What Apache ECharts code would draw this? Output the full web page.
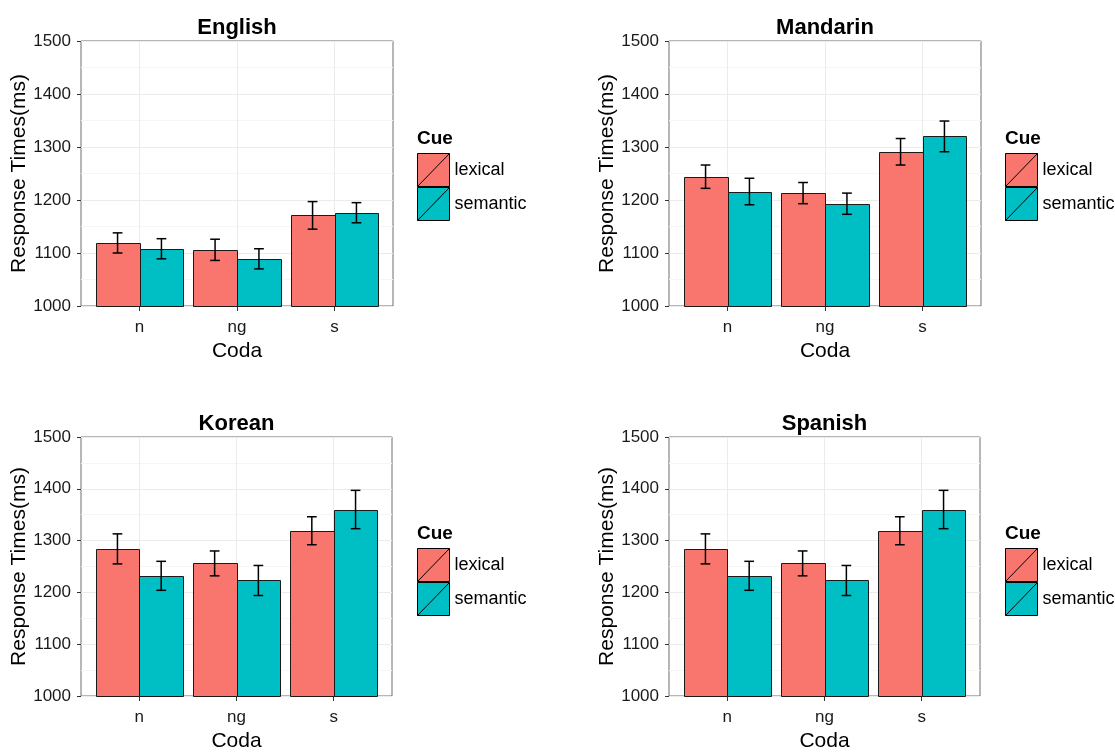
<!DOCTYPE html>
<html>
<head>
<meta charset="utf-8">
<script src="https://cdn.jsdelivr.net/npm/echarts@6/dist/echarts.min.js"></script>
<style>
  html, body { margin: 0; padding: 0; background: #fff; }
  #chart { width: 1115px; height: 753px; }
</style>
</head>
<body>
<div id="chart"></div>
<script>
// Categories
const codas = ['n', 'ng', 's'];
const cues = ['lexical', 'semantic'];
const languages = ['English', 'Mandarin', 'Korean', 'Spanish'];
const yTicks = [1000, 1100, 1200, 1300, 1400, 1500];

// Mean response times (ms) per coda
const englishLexical = [1119, 1106, 1171];
const englishSemantic = [1108, 1089, 1176];
const mandarinLexical = [1244, 1213, 1291];
const mandarinSemantic = [1216, 1193, 1320];
const koreanLexical = [1284, 1256, 1319];
const koreanSemantic = [1232, 1223, 1360];
const spanishLexical = [1284, 1256, 1319];
const spanishSemantic = [1232, 1223, 1360];

// Error bar half-widths (ms)
const englishLexicalErr = [19, 20, 26];
const englishSemanticErr = [19, 19, 19];
const mandarinLexicalErr = [22, 20, 25];
const mandarinSemanticErr = [25, 20, 29];
const koreanLexicalErr = [29, 24, 27];
const koreanSemanticErr = [28, 29, 37];
const spanishLexicalErr = [29, 24, 27];
const spanishSemanticErr = [28, 29, 37];

const cueColors = ['#F8766D', '#00BFC4'];
const FONT = '"Liberation Sans", Arial, sans-serif';

const panels = [
  { name: languages[0], lex: englishLexical, sem: englishSemantic, lexErr: englishLexicalErr, semErr: englishSemanticErr,
    grid: { left: 81, top: 41, width: 312, height: 265 }, legendX: 417, legendTop: 153 },
  { name: languages[1], lex: mandarinLexical, sem: mandarinSemantic, lexErr: mandarinLexicalErr, semErr: mandarinSemanticErr,
    grid: { left: 669, top: 41, width: 312, height: 265 }, legendX: 1005, legendTop: 153 },
  { name: languages[2], lex: koreanLexical, sem: koreanSemantic, lexErr: koreanLexicalErr, semErr: koreanSemanticErr,
    grid: { left: 81, top: 437, width: 311, height: 264 }, legendX: 417, legendTop: 548 },
  { name: languages[3], lex: spanishLexical, sem: spanishSemantic, lexErr: spanishLexicalErr, semErr: spanishSemanticErr,
    grid: { left: 669, top: 437, width: 311, height: 264 }, legendX: 1005, legendTop: 548 }
];

const yMin = yTicks[0];
const yMax = yTicks[yTicks.length - 1];
const dodge = 0.225;   // half of a bar's width, in category units
const capHalf = 0.05;  // half of an error-bar cap

// Bar with its error bar, dodged left (lexical) or right (semantic)
function barRenderer(offset) {
  return function (params, api) {
    const cx = api.value(0) + offset;
    const v = api.value(1);
    const e = api.value(2);
    const tl = api.coord([cx - dodge, v]);
    const br = api.coord([cx + dodge, yMin]);
    const top = api.coord([cx, v + e]);
    const bot = api.coord([cx, v - e]);
    const cl = api.coord([cx - capHalf, v])[0];
    const cr = api.coord([cx + capHalf, v])[0];
    const errStyle = { stroke: '#000', lineWidth: 1.5 };
    return {
      type: 'group',
      children: [
        { type: 'rect',
          shape: { x: Math.round(tl[0]) + 0.5, y: Math.round(tl[1]) + 0.5,
                   width: Math.round(br[0]) - Math.round(tl[0]), height: Math.round(br[1]) - Math.round(tl[1]) },
          style: { fill: api.visual('color'), stroke: '#1a1a1a', lineWidth: 1 } },
        { type: 'line', shape: { x1: top[0], y1: top[1], x2: bot[0], y2: bot[1] }, style: errStyle },
        { type: 'line', shape: { x1: cl, y1: top[1], x2: cr, y2: top[1] }, style: errStyle },
        { type: 'line', shape: { x1: cl, y1: bot[1], x2: cr, y2: bot[1] }, style: errStyle }
      ]
    };
  };
}

const grids = [], xAxes = [], yAxes = [], series = [], legends = [], graphics = [];

panels.forEach(function (p, i) {
  grids.push(Object.assign({ show: true, borderColor: '#6E6E6E', borderWidth: 1, backgroundColor: '#fff' }, p.grid));

  xAxes.push({
    gridIndex: i, type: 'value', min: 0.4, max: 3.6,
    axisLine: { show: false },
    axisTick: { show: true, customValues: [1, 2, 3], length: 5, lineStyle: { color: '#333' } },
    axisLabel: { customValues: [1, 2, 3], formatter: function (v) { return codas[Math.round(v) - 1]; },
                 fontSize: 17, color: '#1a1a1a', margin: 13, fontFamily: FONT },
    splitLine: { show: true, lineStyle: { color: '#EBEBEB', width: 1 } },
    name: 'Coda', nameLocation: 'middle', nameGap: 35,
    nameTextStyle: { fontSize: 21, color: '#000', fontFamily: FONT }
  });

  yAxes.push({
    gridIndex: i, type: 'value', min: yMin, max: yMax, interval: 100,
    axisLine: { show: false },
    axisTick: { show: true, length: 4, lineStyle: { color: '#333' } },
    axisLabel: { fontSize: 17, color: '#1a1a1a', margin: 10, fontFamily: FONT,
                 formatter: function (v) { return String(v); } },
    splitLine: { show: true, lineStyle: { color: '#EBEBEB', width: 1 } },
    minorTick: { show: false, splitNumber: 2 },
    minorSplitLine: { show: true, lineStyle: { color: '#F6F6F6', width: 1 } },
    name: 'Response Times(ms)', nameLocation: 'middle', nameGap: 44, nameRotate: 90,
    nameTextStyle: { fontSize: 21, color: '#000', fontFamily: FONT }
  });

  [[p.lex, p.lexErr, -dodge], [p.sem, p.semErr, dodge]].forEach(function (s, k) {
    series.push({
      type: 'custom', name: cues[k], xAxisIndex: i, yAxisIndex: i,
      itemStyle: { color: cueColors[k] },
      dimensions: ['coda', 'rt', 'err'],
      encode: { x: 0, y: 1 },
      renderItem: barRenderer(s[2]),
      data: codas.map(function (c, j) { return [j + 1, s[0][j], s[1][j]]; })
    });
  });

  legends.push({
    left: p.legendX, top: p.legendTop, orient: 'vertical', itemGap: 0, padding: 0,
    itemWidth: 32, itemHeight: 33, selectedMode: false,
    icon: 'path://M0,0H32V33H0ZM0,33L32,0',
    itemStyle: { borderColor: '#000', borderWidth: 1 },
    textStyle: { fontSize: 18, color: '#000', fontFamily: FONT, padding: [5, 0, 0, 0] },
    data: cues
  });

  graphics.push({
    type: 'text', x: p.grid.left + p.grid.width / 2, y: p.grid.top - 13,
    style: { text: p.name, font: 'bold 22px ' + FONT, fill: '#000', align: 'center', verticalAlign: 'middle' }
  });
  graphics.push({
    type: 'text', x: p.legendX, y: p.legendTop - 14,
    style: { text: 'Cue', font: 'bold 19px ' + FONT, fill: '#000', align: 'left', verticalAlign: 'middle' }
  });
});

const chart = echarts.init(document.getElementById('chart'), null, { renderer: 'canvas' });
chart.setOption({
  animation: false,
  backgroundColor: '#fff',
  textStyle: { fontFamily: FONT },
  grid: grids,
  xAxis: xAxes,
  yAxis: yAxes,
  legend: legends,
  graphic: graphics,
  series: series
});
</script>
</body>
</html>
